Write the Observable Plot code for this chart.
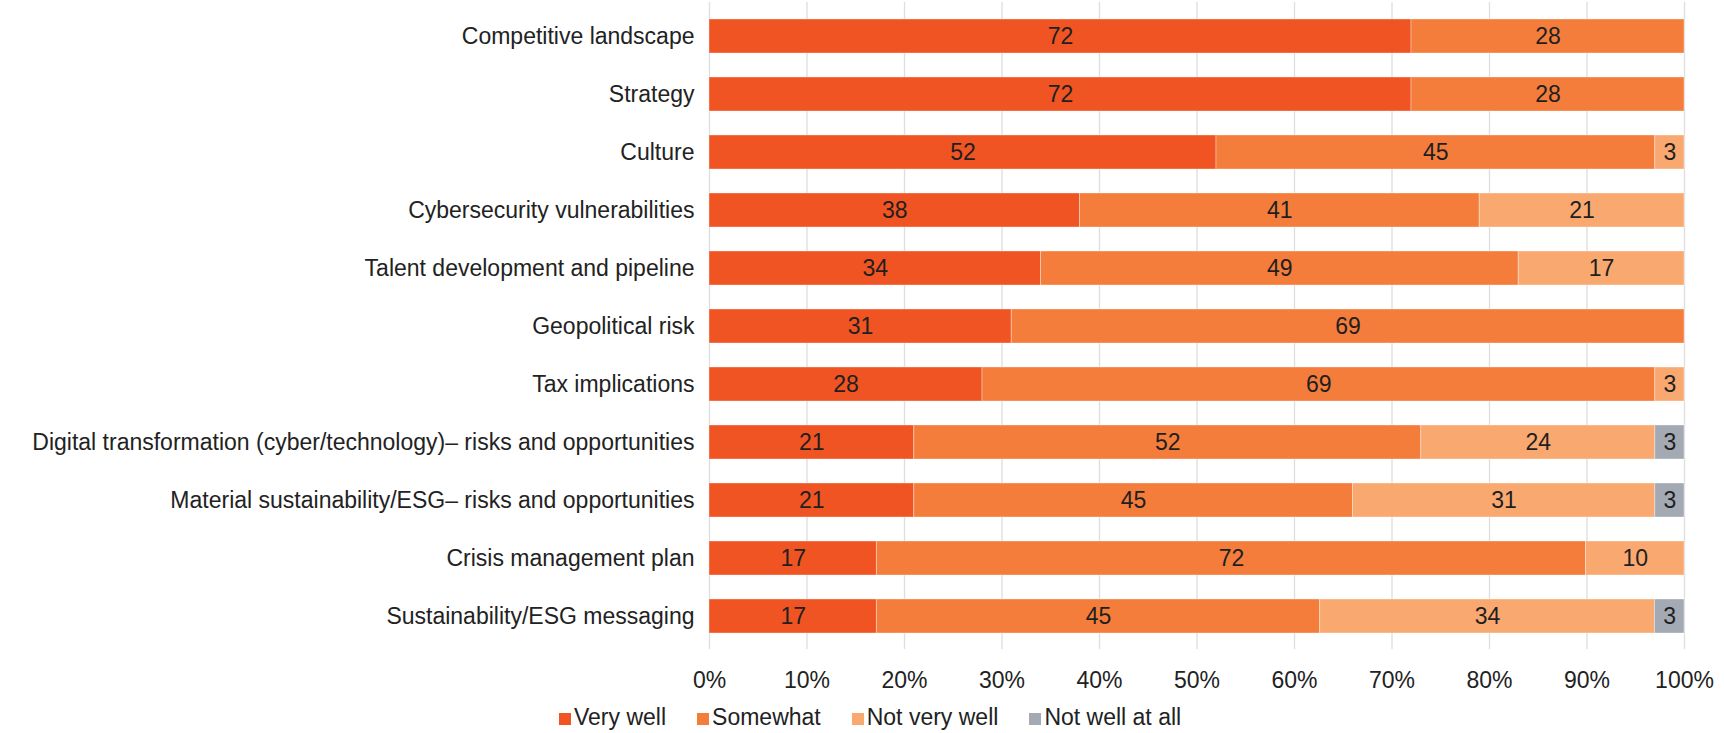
<!DOCTYPE html>
<html>
<head>
<meta charset="utf-8">
<script src="https://cdn.jsdelivr.net/npm/d3@7"></script>
<script src="https://cdn.jsdelivr.net/npm/@observablehq/plot@0.6"></script>
<style>
  html, body { margin: 0; padding: 0; background: #fff; }
  body { width: 1724px; height: 733px; overflow: hidden; font-family: "Liberation Sans", Arial, sans-serif; }
  #chart svg { display: block; }
  #legend { display: flex; align-items: center; margin-top: 12px; padding-left: 559px; font-size: 23px; color: #222; line-height: 26px; white-space: nowrap; }
  #legend .item { display: flex; align-items: baseline; margin-right: 31px; }
  #legend .sw { display: inline-block; width: 12px; height: 12px; margin-right: 3px; }
</style>
</head>
<body>
<div id="chart"></div>
<div id="legend"></div>
<script>
const categories = [
  "Competitive landscape",
  "Strategy",
  "Culture",
  "Cybersecurity vulnerabilities",
  "Talent development and pipeline",
  "Geopolitical risk",
  "Tax implications",
  "Digital transformation (cyber/technology)– risks and opportunities",
  "Material sustainability/ESG– risks and opportunities",
  "Crisis management plan",
  "Sustainability/ESG messaging"
];
const seriesNames = ["Very well", "Somewhat", "Not very well", "Not well at all"];
const veryWell     = [72, 72, 52, 38, 34, 31, 28, 21, 21, 17, 17];
const somewhat     = [28, 28, 45, 41, 49, 69, 69, 52, 45, 72, 45];
const notVeryWell  = [ 0,  0,  3, 21, 17,  0,  3, 24, 31, 10, 34];
const notWellAtAll = [ 0,  0,  0,  0,  0,  0,  0,  3,  3,  0,  3];
const seriesColors = ["#f05423", "#f47d3c", "#f9a870", "#a4aab3"];
const xTicks = [0, 0.1, 0.2, 0.3, 0.4, 0.5, 0.6, 0.7, 0.8, 0.9, 1];

const seriesValues = [veryWell, somewhat, notVeryWell, notWellAtAll];
const data = [];
categories.forEach((c, i) => {
  seriesNames.forEach((s, j) => {
    data.push({category: c, series: s, value: seriesValues[j][i]});
  });
});

const stackOpts = {x: "value", y: "category", z: "series", offset: "normalize", order: null};

const chart = Plot.plot({
  width: 1724,
  height: 692,
  marginLeft: 709,
  marginRight: 40,
  marginTop: 2,
  marginBottom: 43,
  style: {fontFamily: '"Liberation Sans", Arial, sans-serif', fontSize: "23px", color: "#222", background: "#fff"},
  x: {domain: [0, 1], ticks: xTicks, tickFormat: d3.format(".0%"), tickSize: 0, tickPadding: 22, label: null, grid: false},
  y: {domain: categories, paddingInner: 0.42, paddingOuter: 0.21, tickSize: 0, tickPadding: 15, label: null},
  color: {domain: seriesNames, range: seriesColors},
  marks: [
    Plot.ruleX(xTicks, {stroke: "#dedede", strokeWidth: 1.3}),
    Plot.barX(data, Plot.stackX({...stackOpts, fill: "series", stroke: "#ffffff", strokeOpacity: 0.35, strokeWidth: 1})),
    Plot.text(data, Plot.stackX({...stackOpts, filter: d => d.value > 0, text: d => String(d.value), fill: "#1f1f1f", fontSize: 23}))
  ]
});
document.getElementById("chart").appendChild(chart);

const legend = document.getElementById("legend");
seriesNames.forEach((s, i) => {
  const item = document.createElement("span");
  item.className = "item";
  const sw = document.createElement("span");
  sw.className = "sw";
  sw.style.background = seriesColors[i];
  item.appendChild(sw);
  item.appendChild(document.createTextNode(s));
  legend.appendChild(item);
});
</script>
</body>
</html>
